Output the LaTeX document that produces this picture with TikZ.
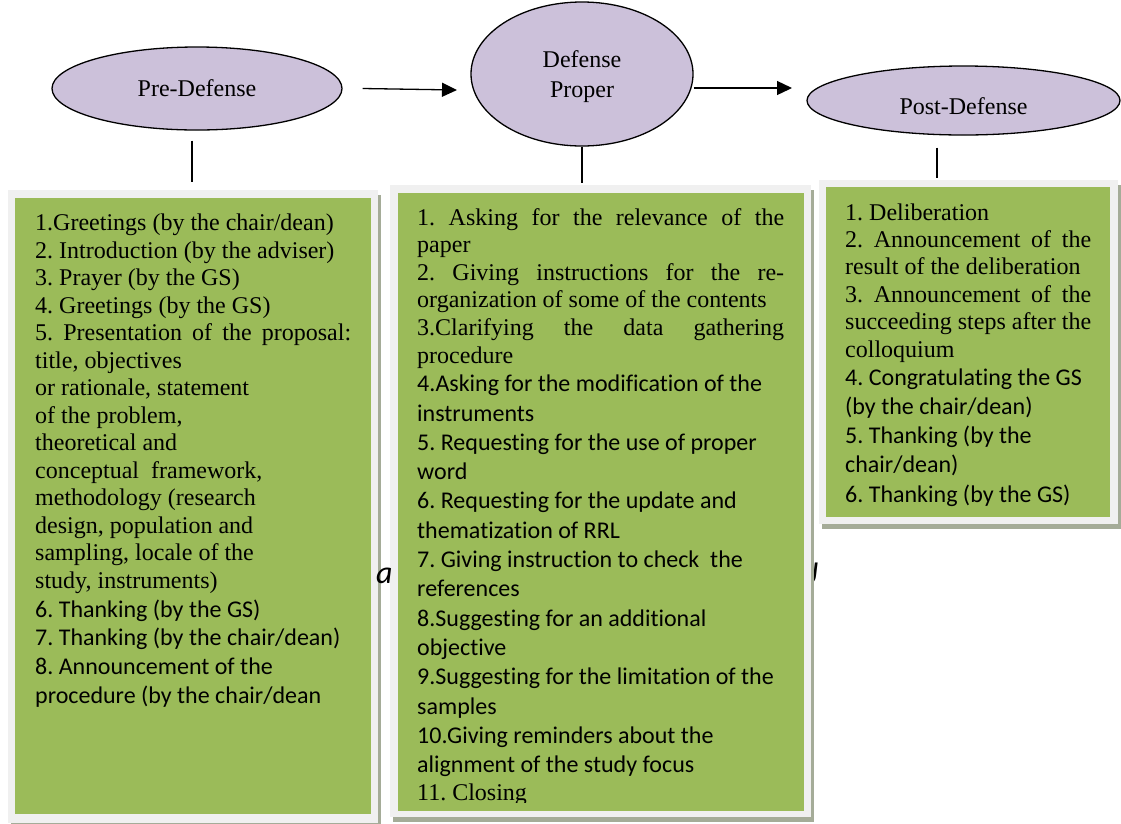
\documentclass[tikz,border=0pt]{standalone}
\usepackage{fontspec}
\setmainfont{Liberation Serif}
\newfontfamily\cb[Ligatures=NoCommon]{Carlito}
\usetikzlibrary{shapes.geometric,arrows.meta,calc,shadows}
\definecolor{lav}{HTML}{CCC1DA}
\definecolor{olive}{HTML}{9BBB59}
\definecolor{framegray}{HTML}{F0F0F0}
\definecolor{shad}{HTML}{A5AC98}
\newcommand\TL[1]{\hbox to\hsize{#1\hfil}}
\newcommand\JL[1]{\hbox to\hsize{#1}}
\newcommand\CL[1]{\hbox to\hsize{\cb #1\hfil}}
\newcommand\boxsetup{\frenchspacing\lineskiplimit=-\maxdimen\parskip=0pt\fontsize{24}{27.5}\selectfont}
\begin{document}
\begin{tikzpicture}[x=1pt,y=-1pt,
  font=\fontsize{24}{27.5}\selectfont,
  phase/.style={ellipse, draw=black, line width=1.3pt, fill=lav, inner sep=0pt, align=center},
  arr/.style={-{Triangle[length=15pt,width=14pt]}, line width=1.3pt},
  link/.style={line width=1.3pt},
  frameb/.style={fill=framegray, draw=none, inner sep=0pt, anchor=north west,
    general shadow={fill=shad, shadow xshift=3pt, shadow yshift=-5pt}},
  greenb/.style={fill=olive, draw=none, inner sep=0pt, anchor=north west},
  listtext/.style={anchor=base west, inner sep=0pt},
  stray/.style={inner sep=0pt, font=\cb\itshape\fontsize{32}{32}\selectfont}
]
\useasboundingbox[fill=white] (0,0) rectangle (1121,823);

% stray glyph partly hidden behind the boxes
\node[stray, anchor=base east] (strayj) at (818,583) {J};

% ellipses
\node[phase, minimum width=290pt, minimum height=83pt] (pre) at (197,88.5) {Pre-Defense};
\node[phase, minimum width=222pt, minimum height=144pt, text depth=0pt] (defense) at (582,74) {Defense\\[3pt]Proper};
\node[phase, minimum width=313pt, minimum height=69pt, text height=27pt, text depth=0pt] (post) at (963.5,100.5) {Post-Defense};

% arrows
\coordinate (a1e) at (457,90);
\coordinate (a2e) at (792,88);
\draw[arr] ([xshift=20pt]pre.east) -- (a1e);
\draw[arr] (defense.east |- a2e) -- (a2e);

% boxes
\node[frameb, minimum width=370.7pt, minimum height=633pt] (preframe) at (7.3,190) {};
\node[greenb, minimum width=355.7pt, minimum height=616.7pt] (pregreen) at (15,197.3) {};
\node[frameb, minimum width=421pt, minimum height=632pt] (midframe) at (390,185) {};
\node[greenb, minimum width=406pt, minimum height=618pt] (midgreen) at (398,193) {};
\node[frameb, minimum width=299.5pt, minimum height=344pt] (postframe) at (818.3,179.3) {};
\node[greenb, minimum width=284.3pt, minimum height=330pt] (postgreen) at (825.7,186.7) {};

% vertical links
\draw[link, shorten <=10pt, shorten >=8pt] ([xshift=-5pt]pre.south) -- ([xshift=-5pt]pre.south |- preframe.north);
\draw[link, shorten >=2pt] (defense.south) -- (defense.south |- midframe.north);
\draw[link, shorten <=12pt, shorten >=1.5pt] ([xshift=-26.5pt]post.south) -- ([xshift=-26.5pt]post.south |- postframe.north);

% texts
\node[listtext] (pretext) at (35,230.7) {\parbox[t]{316pt}{\boxsetup
\baselineskip=27.5pt
\TL{1.Greetings (by the chair/dean)}
\TL{2. Introduction (by the adviser)}
\TL{3. Prayer (by the GS)}
\TL{4. Greetings (by the GS)}
\JL{5. Presentation of the proposal:}
\TL{title, objectives}
\TL{or rationale, statement}
\TL{of the problem,}
\TL{theoretical and}
\TL{conceptual\ \ framework,}
\TL{methodology (research}
\TL{design, population and}
\TL{sampling, locale of the}
\TL{study, instruments)}
\baselineskip=28.8pt
\CL{6. Thanking (by the GS)}
\CL{7. Thanking (by the chair/dean)}
\CL{8. Announcement of the}
\CL{procedure (by the chair/dean}
}};

\begin{scope}
\clip (398,193) rectangle (804,802);
\node[listtext] (midtext) at (417,225) {\parbox[t]{367pt}{\boxsetup
\baselineskip=27.6pt
\JL{1. Asking for the relevance of the}
\TL{paper}
\JL{2. Giving instructions for the re-}
\TL{organization of some of the contents}
\JL{3.Clarifying the data gathering}
\TL{procedure}
\baselineskip=28.7pt
\CL{4.Asking for the modification of the}
\baselineskip=29.3pt
\CL{instruments}
\CL{5. Requesting for the use of proper}
\CL{word}
\CL{6. Requesting for the update and}
\CL{thematization of RRL}
\CL{7. Giving instruction to check\ \ the}
\CL{references}
\CL{8.Suggesting for an additional}
\CL{objective}
\CL{9.Suggesting for the limitation of the}
\CL{samples}
\CL{10.Giving reminders about the}
\CL{alignment of the study focus}
\baselineskip=28pt
\TL{11. Closing}
}};
\end{scope}

\node[listtext] (posttext) at (845,220) {\parbox[t]{246pt}{\boxsetup
\baselineskip=27.4pt
\TL{1. Deliberation}
\JL{2. Announcement of the}
\TL{result of the deliberation}
\JL{3. Announcement of the}
\JL{succeeding steps after the}
\TL{colloquium}
\baselineskip=28.3pt
\CL{4. Congratulating the GS}
\baselineskip=29.2pt
\CL{(by the chair/dean)}
\CL{5. Thanking (by the}
\CL{chair/dean)}
\CL{6. Thanking (by the GS)}
}};

\node[stray, anchor=base west] (straya) at (376,583) {a};
\end{tikzpicture}
\end{document}
